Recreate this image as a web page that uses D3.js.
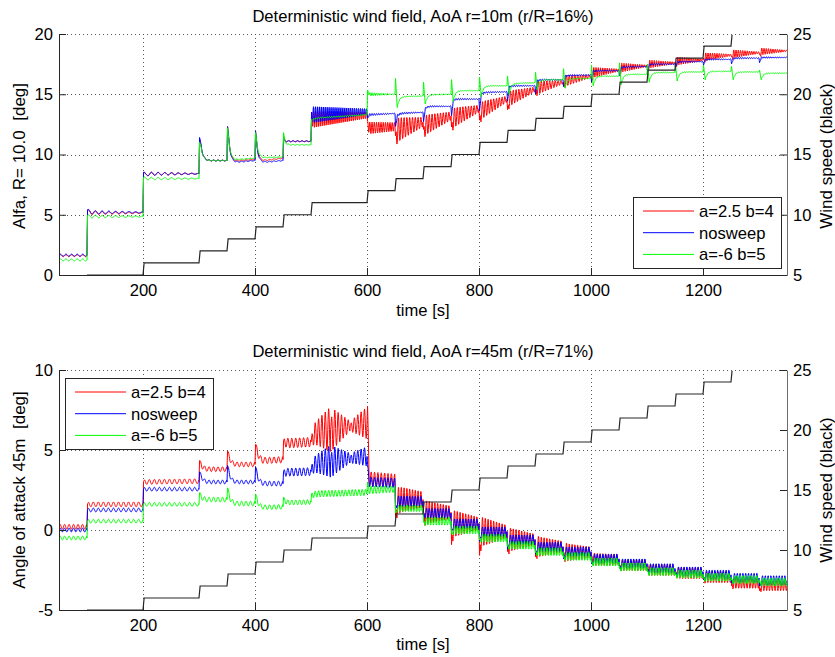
<!DOCTYPE html>
<html><head><meta charset="utf-8">
<script src="https://cdn.jsdelivr.net/npm/d3@7"></script>
<style>
body{margin:0;background:#fff}
text{font-family:"Liberation Sans",Arial,Helvetica,sans-serif;fill:#000;white-space:pre}
</style></head>
<body><svg id="chart" width="835" height="657"></svg>
<script>
// ---------------- DATA ----------------
const timeDomain = [50, 1350];
const timeTicks = [200, 400, 600, 800, 1000, 1200];
const windTicks = [5, 10, 15, 20, 25];
const topAoaTicks = [0, 5, 10, 15, 20];
const bottomAoaTicks = [-5, 0, 5, 10];
const seriesNames = ["a=2.5 b=4", "nosweep", "a=-6 b=5"];
const seriesColors = ["#ff0000", "#0000ff", "#00ff00"];
const titles = ["Deterministic wind field, AoA r=10m (r/R=16%)", "Deterministic wind field, AoA r=45m (r/R=71%)"];
const yLabels = ["Alfa, R= 10.0  [deg]", "Angle of attack 45m  [deg]"];

// wind speed steps (black line): step time [s], wind speed [m/s]
const windStepTimes  = [100, 200, 300, 350, 400, 450, 500, 600, 650, 700, 750, 800, 850, 900, 950, 1000, 1050, 1100, 1150, 1200, 1250];
const windStepValues = [5, 6, 7, 8, 9, 10, 11, 12, 13, 14, 15, 16, 17, 18, 19, 20, 21, 22, 23, 24, 25];

// AoA segments:
// [step time, peak after step, value 4 s later, settled level, level at next step, ripple amp start, ripple amp end, ripple period]
const r10_a25b4 = [
  [50, 1.6, 1.6, 1.6, 1.6, 0.08, 0.08, 10],
  [100, 5.35, 5.2, 5.15, 5.15, 0.15, 0.04, 12],
  [200, 8.5, 8.3, 8.4, 8.4, 0.15, 0.03, 12],
  [300, 11.3, 10.7, 9.5, 9.5, 0.05, 0.03, 8],
  [350, 12.3, 11.0, 9.4, 9.6, 0.05, 0.03, 8],
  [400, 11.9, 10.6, 9.4, 9.7, 0.05, 0.03, 8],
  [450, 11.5, 11.1, 11.1, 11.1, 0.05, 0.03, 8],
  [500, 12.9, 12.9, 12.9, 13.25, 0.7, 0.25, 3.5],
  [600, 12.6, 12.2, 12.2, 12.3, 0.5, 0.35, 4],
  [650, 11.2, 12.0, 12.0, 12.7, 1.1, 0.4, 5],
  [700, 11.8, 12.4, 12.4, 13.2, 0.9, 0.35, 5],
  [750, 12.0, 13.0, 13.0, 13.8, 0.9, 0.3, 5],
  [800, 12.6, 13.6, 13.6, 14.6, 0.8, 0.25, 5],
  [850, 13.5, 14.6, 14.6, 15.4, 0.7, 0.2, 5],
  [900, 15.0, 15.5, 15.5, 16.0, 0.6, 0.15, 5],
  [950, 15.6, 16.1, 16.1, 16.5, 0.5, 0.12, 5],
  [1000, 16.2, 16.8, 16.8, 17.0, 0.45, 0.1, 4],
  [1050, 16.8, 17.2, 17.2, 17.35, 0.4, 0.08, 4],
  [1100, 17.1, 17.5, 17.5, 17.6, 0.35, 0.08, 4],
  [1150, 17.4, 17.75, 17.75, 17.85, 0.35, 0.08, 4],
  [1200, 17.8, 18.1, 18.1, 18.25, 0.35, 0.08, 4],
  [1250, 18.0, 18.35, 18.35, 18.45, 0.35, 0.08, 4],
  [1300, 18.2, 18.55, 18.55, 18.6, 0.3, 0.06, 4]
];
const r10_nosweep = [
  [50, 1.65, 1.65, 1.65, 1.65, 0.08, 0.08, 10],
  [100, 5.4, 5.25, 5.2, 5.2, 0.15, 0.04, 12],
  [200, 8.5, 8.3, 8.4, 8.4, 0.15, 0.03, 12],
  [300, 11.4, 10.7, 9.5, 9.5, 0.05, 0.03, 8],
  [350, 12.3, 10.9, 9.3, 9.5, 0.05, 0.03, 8],
  [400, 11.9, 10.5, 9.3, 9.5, 0.05, 0.03, 8],
  [450, 11.3, 11.1, 11.1, 11.1, 0.05, 0.03, 8],
  [500, 13.3, 13.3, 13.3, 13.55, 0.7, 0.25, 3.5],
  [600, 13.0, 13.3, 13.3, 13.4, 0.1, 0.03, 4],
  [650, 12.3, 13.2, 13.4, 13.5, 0.1, 0.03, 4],
  [700, 12.7, 13.8, 14.0, 14.0, 0.08, 0.03, 4],
  [750, 13.2, 14.5, 14.6, 14.6, 0.08, 0.03, 4],
  [800, 13.6, 15.0, 15.15, 15.2, 0.08, 0.03, 4],
  [850, 14.4, 15.6, 15.7, 15.7, 0.08, 0.03, 4],
  [900, 15.0, 16.1, 16.2, 16.2, 0.08, 0.03, 4],
  [950, 15.6, 16.5, 16.55, 16.6, 0.08, 0.03, 4],
  [1000, 16.0, 16.9, 16.95, 16.95, 0.08, 0.03, 4],
  [1050, 16.5, 17.2, 17.25, 17.3, 0.08, 0.03, 4],
  [1100, 16.9, 17.45, 17.5, 17.5, 0.08, 0.03, 4],
  [1150, 17.2, 17.65, 17.7, 17.7, 0.08, 0.03, 4],
  [1200, 17.4, 17.85, 17.9, 17.9, 0.08, 0.03, 4],
  [1250, 17.5, 17.95, 18.0, 18.0, 0.08, 0.03, 4],
  [1300, 17.6, 18.05, 18.05, 18.05, 0.08, 0.03, 4]
];
const r10_am6b5 = [
  [50, 1.25, 1.25, 1.25, 1.25, 0.08, 0.08, 10],
  [100, 4.95, 4.85, 4.85, 4.85, 0.12, 0.04, 12],
  [200, 8.1, 8.0, 8.0, 8.0, 0.12, 0.03, 12],
  [300, 11.0, 10.6, 9.5, 9.5, 0.04, 0.02, 8],
  [350, 12.2, 10.9, 9.5, 9.7, 0.04, 0.02, 8],
  [400, 11.8, 10.7, 9.7, 9.8, 0.04, 0.02, 8],
  [450, 11.8, 11.0, 10.8, 10.8, 0.04, 0.02, 8],
  [500, 12.9, 12.9, 13.0, 13.3, 0.05, 0.05, 4],
  [600, 15.3, 15.0, 15.0, 15.0, 0.15, 0.02, 4],
  [650, 16.3, 13.9, 14.8, 14.85, 0.04, 0.02, 4],
  [700, 16.0, 14.2, 14.95, 15.0, 0.04, 0.02, 4],
  [750, 16.2, 14.4, 15.3, 15.3, 0.04, 0.02, 4],
  [800, 16.4, 14.8, 15.7, 15.7, 0.04, 0.02, 4],
  [850, 16.5, 15.0, 15.9, 15.95, 0.04, 0.02, 4],
  [900, 16.8, 15.4, 16.2, 16.2, 0.04, 0.02, 4],
  [950, 17.1, 15.5, 16.3, 16.3, 0.04, 0.02, 4],
  [1000, 17.4, 15.7, 16.5, 16.5, 0.04, 0.02, 4],
  [1050, 17.6, 15.8, 16.65, 16.65, 0.04, 0.02, 4],
  [1100, 17.5, 16.0, 16.8, 16.8, 0.04, 0.02, 4],
  [1150, 17.4, 16.1, 16.85, 16.85, 0.04, 0.02, 4],
  [1200, 17.4, 16.2, 16.9, 16.9, 0.04, 0.02, 4],
  [1250, 17.3, 16.2, 16.85, 16.85, 0.04, 0.02, 4],
  [1300, 17.0, 16.2, 16.75, 16.75, 0.04, 0.02, 4]
];

const r45_a25b4 = [
  [50, 0.2, 0.2, 0.2, 0.2, 0.15, 0.15, 8],
  [100, 1.6, 1.6, 1.6, 1.6, 0.15, 0.15, 9],
  [200, 3.0, 3.0, 3.0, 3.05, 0.15, 0.15, 9],
  [300, 4.3, 4.1, 3.8, 3.8, 0.15, 0.15, 8],
  [350, 4.9, 4.6, 4.1, 4.1, 0.15, 0.15, 8],
  [400, 5.3, 5.0, 4.3, 4.4, 0.2, 0.2, 8],
  [450, 5.5, 5.5, 5.4, 5.5, 0.3, 0.3, 7],
  [500, 5.6, 5.9, 6.0, 6.3, 0.5, 1.4, 6],
  [535, 6.3, 6.3, 6.3, 6.5, 1.4, 0.3, 6],
  [570, 6.5, 6.5, 6.5, 6.7, 0.3, 1.0, 6],
  [600, 7.6, 3.2, 3.2, 3.1, 0.45, 0.4, 6],
  [650, 0.5, 1.8, 1.9, 1.9, 0.9, 0.5, 5],
  [700, 0.6, 1.1, 1.1, 1.1, 0.8, 0.4, 5],
  [750, -1.2, 0.4, 0.4, 0.4, 0.9, 0.4, 5],
  [800, -1.9, -0.1, -0.1, -0.1, 1.0, 0.4, 5],
  [850, -1.6, -0.6, -0.6, -0.6, 0.8, 0.35, 5],
  [900, -1.9, -1.0, -1.05, -1.05, 0.7, 0.35, 5],
  [950, -1.8, -1.35, -1.4, -1.4, 0.6, 0.35, 5],
  [1000, -1.8, -1.8, -1.85, -1.85, 0.4, 0.35, 5],
  [1050, -2.4, -2.2, -2.2, -2.2, 0.35, 0.35, 5],
  [1100, -2.3, -2.5, -2.5, -2.5, 0.35, 0.35, 5],
  [1150, -2.8, -2.65, -2.7, -2.7, 0.35, 0.35, 5],
  [1200, -3.2, -2.95, -2.95, -2.95, 0.35, 0.35, 5],
  [1250, -3.6, -3.3, -3.3, -3.3, 0.35, 0.35, 5],
  [1300, -3.9, -3.45, -3.45, -3.45, 0.35, 0.35, 5]
];
const r45_nosweep = [
  [50, 0.0, 0.0, 0.0, 0.0, 0.12, 0.12, 8],
  [100, 1.25, 1.25, 1.25, 1.25, 0.12, 0.12, 9],
  [200, 2.55, 2.55, 2.55, 2.55, 0.12, 0.12, 9],
  [300, 3.6, 3.4, 3.0, 3.0, 0.12, 0.12, 8],
  [350, 4.0, 3.6, 3.0, 3.0, 0.12, 0.12, 8],
  [400, 3.9, 3.5, 2.9, 2.9, 0.15, 0.15, 8],
  [450, 3.6, 3.6, 3.6, 3.65, 0.25, 0.25, 7],
  [500, 3.8, 4.0, 4.1, 4.3, 0.4, 1.0, 6],
  [535, 4.3, 4.3, 4.3, 4.5, 1.0, 0.3, 6],
  [570, 4.5, 4.5, 4.5, 4.6, 0.3, 0.6, 6],
  [600, 4.0, 3.0, 3.0, 2.95, 0.3, 0.3, 6],
  [650, 1.2, 1.8, 1.8, 1.8, 0.35, 0.3, 5],
  [700, 0.8, 1.1, 1.05, 1.05, 0.3, 0.3, 5],
  [750, -0.3, 0.4, 0.4, 0.4, 0.3, 0.3, 5],
  [800, -0.8, -0.1, -0.1, -0.1, 0.3, 0.3, 5],
  [850, -1.3, -0.6, -0.6, -0.6, 0.3, 0.3, 5],
  [900, -1.6, -1.05, -1.05, -1.05, 0.3, 0.3, 5],
  [950, -1.9, -1.35, -1.35, -1.35, 0.3, 0.3, 5],
  [1000, -2.2, -1.8, -1.8, -1.8, 0.3, 0.3, 5],
  [1050, -2.5, -2.1, -2.1, -2.1, 0.3, 0.3, 5],
  [1100, -2.7, -2.4, -2.4, -2.4, 0.3, 0.3, 5],
  [1150, -2.9, -2.6, -2.6, -2.6, 0.3, 0.3, 5],
  [1200, -3.2, -2.8, -2.8, -2.8, 0.3, 0.3, 5],
  [1250, -3.4, -3.0, -3.0, -3.0, 0.3, 0.3, 5],
  [1300, -3.6, -3.15, -3.15, -3.15, 0.3, 0.3, 5]
];
const r45_am6b5 = [
  [50, -0.5, -0.5, -0.5, -0.5, 0.12, 0.12, 8],
  [100, 0.55, 0.55, 0.55, 0.55, 0.12, 0.12, 9],
  [200, 1.6, 1.6, 1.6, 1.6, 0.12, 0.12, 9],
  [300, 2.3, 2.1, 1.9, 1.9, 0.15, 0.15, 8],
  [350, 2.6, 2.2, 1.65, 1.65, 0.15, 0.15, 8],
  [400, 2.2, 1.9, 1.4, 1.45, 0.15, 0.15, 8],
  [450, 2.0, 1.8, 1.7, 1.75, 0.15, 0.15, 7],
  [500, 2.2, 2.2, 2.25, 2.35, 0.2, 0.2, 6],
  [600, 2.9, 2.5, 2.5, 2.55, 0.25, 0.2, 6],
  [650, 1.0, 1.35, 1.35, 1.35, 0.2, 0.2, 5],
  [700, 0.4, 0.55, 0.55, 0.55, 0.25, 0.25, 5],
  [750, -0.3, 0.0, 0.0, 0.0, 0.25, 0.25, 5],
  [800, -0.7, -0.5, -0.5, -0.5, 0.25, 0.25, 5],
  [850, -1.1, -0.95, -0.95, -0.95, 0.25, 0.25, 5],
  [900, -1.5, -1.35, -1.35, -1.35, 0.25, 0.25, 5],
  [950, -1.8, -1.65, -1.65, -1.65, 0.25, 0.25, 5],
  [1000, -2.1, -2.0, -2.0, -2.0, 0.25, 0.25, 5],
  [1050, -2.5, -2.3, -2.3, -2.3, 0.25, 0.25, 5],
  [1100, -2.7, -2.6, -2.6, -2.6, 0.25, 0.25, 5],
  [1150, -2.9, -2.75, -2.75, -2.75, 0.25, 0.25, 5],
  [1200, -3.1, -2.95, -2.95, -2.95, 0.25, 0.25, 5],
  [1250, -3.2, -3.1, -3.1, -3.1, 0.25, 0.25, 5],
  [1300, -3.3, -3.25, -3.25, -3.25, 0.25, 0.25, 5]
];

// ---------------- DRAWING ----------------
const svg = d3.select("#chart");
const FS = 16.6;
const X0 = 59, X1 = 787;
const fmt = d => String(d);

function segPoints(segs) {
  const pts = [];
  let prev = segs[0][3];
  const tau = 3.5, D = 4;
  segs.forEach((s, i) => {
    const [t0, peak, dip, level, end, a0, a1, per] = s;
    const t1 = i < segs.length - 1 ? segs[i + 1][0] : timeDomain[1];
    const L = t1 - t0;
    const lvlD = level + (end - level) * D / L;
    for (let t = t0; t < t1 - 1e-9; t += 0.5) {
      const dt = t - t0;
      const lvl = level + (end - level) * dt / L;
      let base;
      if (i === 0) base = lvl;
      else if (dt <= 1) base = prev + (peak - prev) * dt;
      else if (dt <= D) base = peak + (dip - peak) * (dt - 1) / (D - 1);
      else base = lvl + (dip - lvlD) * Math.exp(-(dt - D) / tau);
      const amp = a0 + (a1 - a0) * dt / L;
      const rf = i === 0 ? 1 : Math.min(1, dt / 3);
      pts.push([t, base + rf * amp * Math.sin(2 * Math.PI * dt / per)]);
    }
    prev = end;
  });
  pts.push([timeDomain[1], segs[segs.length - 1][4]]);
  return pts;
}

function windPoints() {
  const pts = [[windStepTimes[0], windStepValues[0]]];
  for (let i = 1; i < windStepTimes.length; i++) {
    pts.push([windStepTimes[i], windStepValues[i - 1]]);
    pts.push([windStepTimes[i] + 2, windStepValues[i]]);
  }
  pts.push([timeDomain[1], windStepValues[windStepValues.length - 1]]);
  return pts;
}

function panel(cfg) {
  const x = d3.scaleLinear().domain(timeDomain).range([X0, X1]);
  const y = d3.scaleLinear().domain(cfg.yDomain).range([cfg.y1, cfg.y0]);
  const yw = d3.scaleLinear().domain([5, 25]).range([cfg.y1, cfg.y0]);
  const g = svg.append("g");
  const id = "clip" + cfg.idx;
  svg.append("clipPath").attr("id", id).append("rect")
    .attr("x", X0).attr("y", cfg.y0).attr("width", X1 - X0).attr("height", cfg.y1 - cfg.y0);
  svg.append("clipPath").attr("id", id + "w").append("rect")
    .attr("x", X0).attr("y", cfg.y0 + 1).attr("width", X1 - X0).attr("height", cfg.y1 - cfg.y0 - 1);

  // grid
  const grid = g.append("g").attr("stroke", "#555").attr("stroke-width", 1).attr("stroke-dasharray", "1,3");
  timeTicks.forEach(t => grid.append("line").attr("x1", Math.round(x(t)) + 0.5).attr("x2", Math.round(x(t)) + 0.5).attr("y1", cfg.y0).attr("y2", cfg.y1));
  cfg.yTicks.forEach(v => grid.append("line").attr("x1", X0).attr("x2", X1).attr("y1", Math.round(y(v)) + 0.5).attr("y2", Math.round(y(v)) + 0.5));

  // series
  const line = d3.line().x(d => x(d[0])).y(d => y(d[1]));
  const sg = g.append("g").attr("clip-path", `url(#${id})`);
  cfg.series.forEach((s, k) => {
    sg.append("path").attr("d", line(segPoints(s))).attr("fill", "none")
      .attr("stroke", seriesColors[k]).attr("stroke-width", 1).attr("stroke-linejoin", "round");
  });
  const wline = d3.line().x(d => x(d[0])).y(d => yw(d[1]));
  g.append("path").attr("clip-path", `url(#${id}w)`).attr("d", wline(windPoints()))
    .attr("fill", "none").attr("stroke", "#262626").attr("stroke-width", 1.2);

  // axes
  const ax = g.append("g").attr("transform", `translate(0,${cfg.y1})`)
    .call(d3.axisBottom(x).tickValues(timeTicks).tickFormat(fmt).tickSizeInner(-7).tickSizeOuter(0).tickPadding(9));
  const ay = g.append("g").attr("transform", `translate(${X0},0)`)
    .call(d3.axisLeft(y).tickValues(cfg.yTicks).tickFormat(fmt).tickSizeInner(-7).tickSizeOuter(0).tickPadding(6));
  const ar = g.append("g").attr("transform", `translate(${X1},0)`)
    .call(d3.axisRight(yw).tickValues(windTicks).tickFormat(fmt).tickSizeInner(-7).tickSizeOuter(0).tickPadding(6));
  [ax, ay, ar].forEach(a => {
    a.selectAll("text").style("font-size", FS + "px").attr("fill", "#000");
    a.selectAll("line").attr("stroke", "#262626");
    a.select(".domain").attr("stroke", "#262626");
  });
  ar.select(".domain").attr("stroke", "#6e6e6e");

  // titles & labels
  g.append("text").attr("x", 423).attr("y", cfg.titleY).attr("text-anchor", "middle")
    .style("font-size", FS + "px").text(cfg.title);
  g.append("text").attr("x", 423).attr("y", cfg.xLabY).attr("text-anchor", "middle")
    .style("font-size", FS + "px").text("time [s]");
  g.append("text").attr("transform", `translate(25,${cfg.yLabC}) rotate(-90)`).attr("text-anchor", "middle")
    .style("font-size", "17px").text(cfg.yLabel);
  g.append("text").attr("transform", `translate(832,${cfg.yLabC}) rotate(-90)`).attr("text-anchor", "middle")
    .style("font-size", "17px").text("Wind speed (black)");

  // legend
  const lg = g.append("g");
  lg.append("rect").attr("x", cfg.leg[0] + 0.5).attr("y", cfg.leg[1] + 0.5).attr("width", 148).attr("height", 71)
    .attr("fill", "#fff").attr("stroke", "#262626").attr("stroke-width", 1);
  seriesNames.forEach((n, k) => {
    const yy = cfg.leg[1] + 14 + k * 21.7;
    lg.append("line").attr("x1", cfg.leg[0] + 10).attr("x2", cfg.leg[0] + 61).attr("y1", yy).attr("y2", yy)
      .attr("stroke", seriesColors[k]).attr("stroke-width", 1);
    lg.append("text").attr("x", cfg.leg[0] + 66).attr("y", yy + 6).style("font-size", FS + "px").text(n);
  });
}

panel({idx: 0, y0: 34, y1: 275, yDomain: [0, 20], yTicks: topAoaTicks,
  series: [r10_a25b4, r10_nosweep, r10_am6b5], title: titles[0], titleY: 22, xLabY: 316,
  yLabel: yLabels[0], yLabC: 156, leg: [633, 197]});
panel({idx: 1, y0: 370, y1: 610, yDomain: [-5, 10], yTicks: bottomAoaTicks,
  series: [r45_a25b4, r45_nosweep, r45_am6b5], title: titles[1], titleY: 357, xLabY: 650,
  yLabel: yLabels[1], yLabC: 490, leg: [65, 378]});
</script>
</body></html>
